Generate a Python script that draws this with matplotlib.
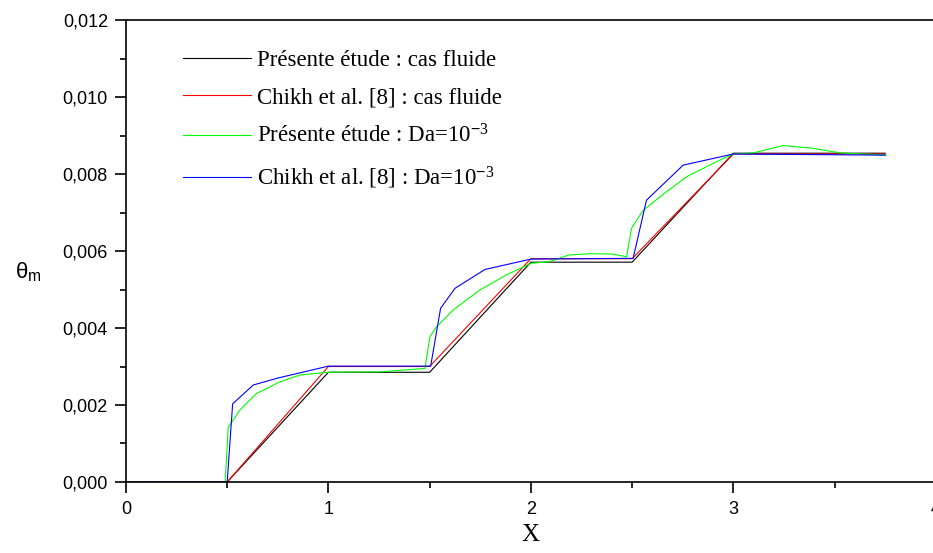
import numpy as np
import matplotlib.pyplot as plt
from matplotlib.ticker import FuncFormatter, MultipleLocator

plt.rcParams['font.family'] = 'Liberation Sans'
plt.rcParams['font.size'] = 12
plt.rcParams['mathtext.fontset'] = 'custom'
plt.rcParams['mathtext.rm'] = 'Liberation Serif'
plt.rcParams['mathtext.it'] = 'Liberation Serif:italic'
plt.rcParams['mathtext.sf'] = 'Liberation Sans'

# Présente étude : cas fluide
x_pf = [0.0, 0.5, 1.0, 1.5, 2.0, 2.5, 3.0, 3.75]
y_pf = [0.0, 0.0, 0.00285, 0.00285, 0.00571, 0.00571, 0.00854, 0.00854]

# Chikh et al. [8] : cas fluide
x_cf = [0.0, 0.5, 1.0, 1.5, 2.0, 2.5, 3.0, 3.75]
y_cf = [0.0, 0.0, 0.00300, 0.00300, 0.00580, 0.00580, 0.00852, 0.00852]

# Présente étude : Da=1e-3
x_pd = [0.0, 0.49, 0.505, 0.563, 0.645, 0.76, 0.86, 1.0, 1.25, 1.477, 1.501,
        1.534, 1.617, 1.748, 1.88, 2.0, 2.09, 2.19, 2.3, 2.406, 2.473, 2.497,
        2.555, 2.67, 2.77, 2.917, 3.0, 3.1, 3.246, 3.39, 3.526, 3.756]
y_pd = [0.0, 0.0, 0.00142, 0.00187, 0.0023, 0.0026, 0.00278, 0.00285, 0.00286,
        0.00295, 0.00377, 0.00403, 0.00447, 0.00499, 0.00538, 0.00568, 0.00572,
        0.0059, 0.00593, 0.00592, 0.00585, 0.00659, 0.00706, 0.00754, 0.00793,
        0.00832, 0.00852, 0.00855, 0.00874, 0.00867, 0.00855, 0.00849]

# Chikh et al. [8] : Da=1e-3
x_cd = [0.0, 0.5, 0.527, 0.629, 0.75, 1.0, 1.505, 1.554, 1.625, 1.773, 2.0,
        2.505, 2.571, 2.752, 3.0, 3.75]
y_cd = [0.0, 0.0, 0.00203, 0.00252, 0.0027, 0.00301, 0.00301, 0.00451,
        0.00503, 0.00552, 0.00579, 0.00581, 0.00732, 0.00823, 0.00852, 0.00849]

labels = ['Présente étude : cas fluide',
          'Chikh et al. [8] : cas fluide',
          r'Présente étude : Da=10$^{\mathsf{-}3}$',
          r'Chikh et al. [8] : Da=10$^{\mathsf{-}3}$']

fig = plt.figure(figsize=(9.33, 5.53), dpi=100)
ax = fig.add_axes([0.135, 0.1284, 0.868, 0.8354])

lw = 0.8
ax.plot(x_pf, y_pf, color='black', lw=lw, label=labels[0])
ax.plot(x_cf, y_cf, color='red', lw=lw, label=labels[1])
ax.plot(x_pd, y_pd, color='#00ff00', lw=lw, label=labels[2])
ax.plot(x_cd, y_cd, color='blue', lw=lw, label=labels[3])

ax.set_xlim(0, 4)
ax.set_ylim(0, 0.012)
ax.xaxis.set_major_locator(MultipleLocator(1))
ax.xaxis.set_minor_locator(MultipleLocator(0.5))
ax.yaxis.set_major_locator(MultipleLocator(0.002))
ax.yaxis.set_minor_locator(MultipleLocator(0.001))
ax.yaxis.set_major_formatter(FuncFormatter(lambda v, p: f'{v:.3f}'.replace('.', ',')))
ax.xaxis.set_major_formatter(FuncFormatter(lambda v, p: f'{v:.0f}'))

for s in ['left', 'top', 'bottom']:
    ax.spines[s].set_linewidth(1.2)
ax.spines['right'].set_visible(False)
ax.tick_params(which='major', direction='out', length=8, width=1.2, labelsize=13)
ax.tick_params(which='minor', direction='out', length=4, width=1.2)
ax.tick_params(axis='x', pad=6)
ax.tick_params(axis='y', pad=5)

ax.set_xlabel('X', family='Liberation Serif', fontsize=18, labelpad=4)
ax.set_ylabel(r'$\mathsf{\theta}_{\mathsf{m}}$', fontsize=16, rotation=0,
              va='center', ha='center')
ax.yaxis.set_label_coords(-0.121, 0.455)

leg = ax.legend(loc='upper left', bbox_to_anchor=(0.0704, 0.936), frameon=False,
                borderaxespad=0, borderpad=0,
                handlelength=2.95, handletextpad=0.3, labelspacing=0.72,
                prop={'family': 'Liberation Serif', 'size': 16.5})

fig.savefig('out.png', dpi=100)
